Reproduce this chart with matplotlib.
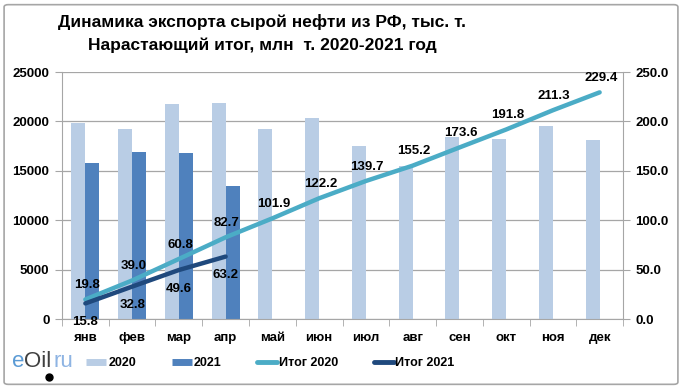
import matplotlib
matplotlib.use('Agg')
import matplotlib.pyplot as plt
from matplotlib.lines import Line2D
from matplotlib.patches import FancyBboxPatch
from matplotlib.ticker import FormatStrFormatter, FixedLocator

plt.rcParams['font.family'] = ['Liberation Sans', 'DejaVu Sans']

months = ['янв', 'фев', 'мар', 'апр', 'май', 'июн', 'июл', 'авг', 'сен', 'окт', 'ноя', 'дек']
exp_2020 = [19800, 19200, 21800, 21900, 19200, 20300, 17500, 15500, 18400, 18200, 19500, 18100]
exp_2021 = [15800, 16900, 16800, 13500]
cum_2020 = [19.8, 39.0, 60.8, 82.7, 101.9, 122.2, 139.7, 155.2, 173.6, 191.8, 211.3, 229.4]
cum_2021 = [15.8, 32.8, 49.6, 63.2]

C_2020 = '#B9CDE5'
C_2021 = '#4F81BD'
C_CUM20 = '#4BACC6'
C_CUM21 = '#1F497D'
GRID = '#A6A6A6'

fig = plt.figure(figsize=(6.82, 3.89), dpi=100)
fig.patch.set_facecolor('white')

# рамка вокруг всей диаграммы
frame = FancyBboxPatch((0.006, 0.012), 0.988, 0.976, boxstyle='round,pad=0,rounding_size=0.006',
                       transform=fig.transFigure, facecolor='none', edgecolor='#A6A6A6', lw=1.2)
fig.patches.append(frame)

fig.text(0.384, 0.943, 'Динамика экспорта сырой нефти из РФ, тыс. т.', ha='center', va='center',
         fontsize=12.5, fontweight='bold')
fig.text(0.384, 0.884, 'Нарастающий итог, млн  т. 2020-2021 год', ha='center', va='center',
         fontsize=12.5, fontweight='bold')

ax = fig.add_axes([0.0909, 0.1799, 0.8226, 0.635])
x = list(range(len(months)))
w = 0.3
ax.bar([i - w / 2 for i in x], exp_2020, width=w, color=C_2020, zorder=2)
ax.bar([i + w / 2 for i in range(len(exp_2021))], exp_2021, width=w, color=C_2021, zorder=2)

ax.set_xlim(-0.5, 11.5)
ax.set_ylim(0, 25000)
ax.set_yticks(range(0, 25001, 5000))
ax.yaxis.grid(True, color=GRID, lw=0.9, zorder=0)
ax.set_axisbelow(True)
ax.set_xticks(x)
ax.set_xticklabels(months, fontsize=9.5, fontweight='bold')
ax.xaxis.set_minor_locator(FixedLocator([i + 0.5 for i in range(-1, 12)]))
ax.tick_params(axis='x', which='major', length=0, pad=9)
ax.tick_params(axis='x', which='minor', length=5, color=GRID, direction='out')
ax.tick_params(axis='y', length=5, color=GRID, labelsize=9.5, pad=4)
for lab in ax.get_yticklabels():
    lab.set_fontweight('bold')
for s in ['top', 'right']:
    ax.spines[s].set_visible(False)
for s in ['left', 'bottom']:
    ax.spines[s].set_color(GRID)

# правая ось - нарастающий итог
ax2 = ax.twinx()
ax2.set_ylim(0, 250)
ax2.set_yticks(range(0, 251, 50))
ax2.yaxis.set_major_formatter(FormatStrFormatter('%.1f'))
ax2.tick_params(axis='y', length=5, color=GRID, labelsize=9.5, pad=4)
for lab in ax2.get_yticklabels():
    lab.set_fontweight('bold')
for s in ['top', 'left', 'bottom']:
    ax2.spines[s].set_visible(False)
ax2.spines['right'].set_color(GRID)

ax2.plot(x, cum_2020, color=C_CUM20, lw=3.2, solid_capstyle='round', zorder=3)
ax2.plot(range(len(cum_2021)), cum_2021, color=C_CUM21, lw=3.2, solid_capstyle='round', zorder=3)

for i, v in enumerate(cum_2020):
    ax2.annotate(f'{v:.1f}', (i, v), xytext=(1, 6), textcoords='offset points',
                 ha='center', va='bottom', fontsize=9.5, fontweight='bold')
for i, v in enumerate(cum_2021):
    ax2.annotate(f'{v:.1f}', (i, v), xytext=(0, -9), textcoords='offset points',
                 ha='center', va='top', fontsize=9.5, fontweight='bold')

handles = [
    Line2D([], [], color=C_2020, lw=5, solid_capstyle='butt'),
    Line2D([], [], color=C_2021, lw=5, solid_capstyle='butt'),
    Line2D([], [], color=C_CUM20, lw=3.5, solid_capstyle='round'),
    Line2D([], [], color=C_CUM21, lw=3.5, solid_capstyle='round'),
]
fig.legend(handles, ['2020', '2021', 'Итог 2020', 'Итог 2021'], loc='center left',
           bbox_to_anchor=(0.11, 0.067), ncol=4, frameon=False,
           handlelength=1.6, handletextpad=0.15, columnspacing=2.85,
           prop={'weight': 'bold', 'size': 9})

# логотип eOil.ru
t_e = fig.text(0.017, 0.07, 'e', fontsize=16, color='#5B9BD5', ha='left', va='center')
t_oil = ax.annotate('Oil', xy=(1, 0.5), xycoords=t_e, xytext=(0, 0), textcoords='offset points',
                    fontsize=16, color='#404040', ha='left', va='center', annotation_clip=False)
ax.annotate('ru', xy=(1, 0.5), xycoords=t_oil, xytext=(2, 0), textcoords='offset points',
            fontsize=16, color='#8EB4E3', ha='left', va='center', annotation_clip=False)
fig.add_artist(Line2D([0.072], [0.032], marker='o', markersize=5, color='black',
                      transform=fig.transFigure))

fig.savefig('out.png', dpi=100, facecolor='white')
